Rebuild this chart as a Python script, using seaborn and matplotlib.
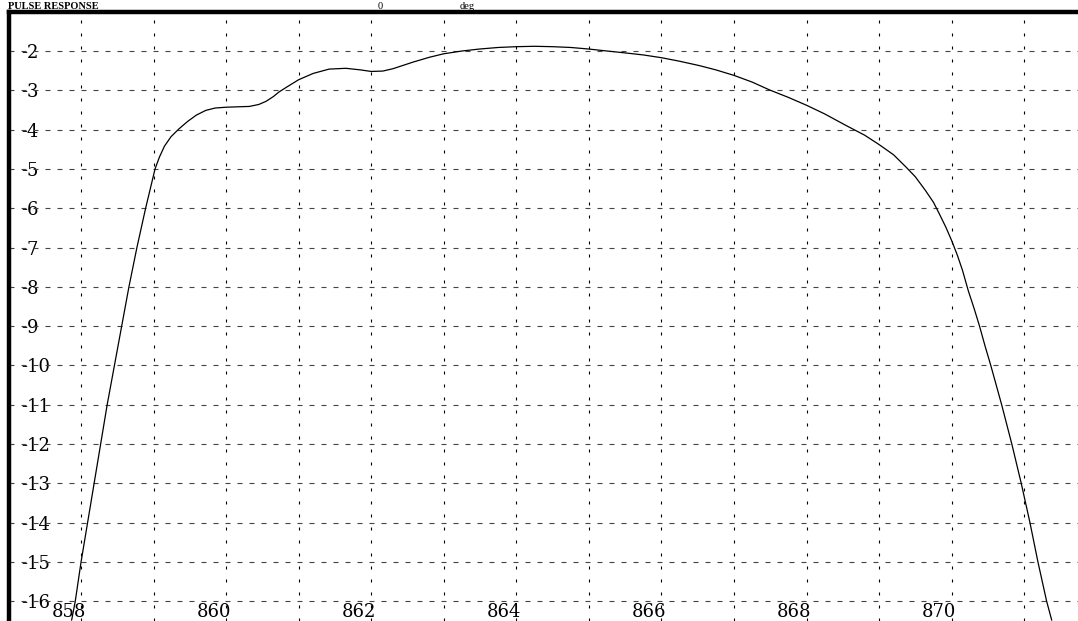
import matplotlib
matplotlib.use("Agg")
import matplotlib.pyplot as plt
import matplotlib.transforms as mtransforms
import seaborn as sns

# frequency (MHz) and level (dB)
freq = [857.87, 857.92, 858.00, 858.09, 858.18, 858.27, 858.36, 858.46, 858.56,
        858.66, 858.77, 858.89, 858.955, 859.02, 859.08, 859.15, 859.24, 859.35,
        859.47, 859.59, 859.72, 859.85, 860.00, 860.15, 860.32, 860.45, 860.55,
        860.65, 860.73, 860.85, 861.00, 861.20, 861.42, 861.65, 861.85, 862.00,
        862.16, 862.30, 862.58, 862.80, 863.00, 863.25, 863.49, 863.75, 864.00,
        864.25, 864.50, 864.75, 865.00, 865.25, 865.51, 865.75, 866.00, 866.25,
        866.52, 866.75, 867.00, 867.25, 867.49, 867.75, 868.00, 868.25, 868.54,
        868.80, 869.00, 869.20, 869.37, 869.50, 869.64, 869.75, 869.83, 869.92,
        870.00, 870.08, 870.15, 870.23, 870.31, 870.385, 870.46, 870.54, 870.69,
        870.83, 870.96, 871.08, 871.19, 871.31, 871.38]
level = [-16.48, -16.0, -15.0, -14.0, -13.0, -12.0, -11.0, -10.0, -9.0,
         -8.0, -7.0, -6.0, -5.5, -5.0, -4.70, -4.42, -4.18, -3.98,
         -3.79, -3.63, -3.51, -3.45, -3.43, -3.42, -3.41, -3.36, -3.28,
         -3.16, -3.04, -2.90, -2.73, -2.57, -2.46, -2.44, -2.48, -2.52,
         -2.51, -2.45, -2.28, -2.16, -2.07, -2.00, -1.95, -1.91, -1.89,
         -1.88, -1.89, -1.91, -1.95, -2.00, -2.05, -2.10, -2.17, -2.26,
         -2.37, -2.48, -2.62, -2.79, -2.99, -3.18, -3.38, -3.60, -3.89,
         -4.14, -4.38, -4.64, -4.95, -5.20, -5.55, -5.85, -6.14, -6.48,
         -6.82, -7.20, -7.58, -8.10, -8.55, -9.0, -9.50, -10.0, -11.0,
         -12.0, -13.0, -14.0, -15.0, -16.0, -16.48]

x_grid = list(range(857, 872))
x_ticks = [858, 860, 862, 864, 866, 868, 870]
y_grid = list(range(-16, 0))
y_ticks = list(range(-16, -1))
y_labels = [str(v) for v in y_ticks]

sns.set_theme(style="white")
plt.rcParams["font.family"] = ["DejaVu Serif", "Liberation Serif"]

W, H = 1078, 621
fig = plt.figure(figsize=(W / 100, H / 100), dpi=100)
left_px, top_px = 8.5, 11.7
ax = fig.add_axes([left_px / W, 0, 1 - left_px / W, (H - top_px) / H])

sns.lineplot(x=freq, y=level, sort=False, color="black", lw=0.9, ax=ax, zorder=3)

ax.set_xlim(857.0, 871.742)
ax.set_ylim(-16.5, -1.0)

# grid: vertical short dashes, horizontal longer dashes
for xv in x_grid:
    ax.axvline(xv, color="black", lw=0.8, ls=(0, (2.7, 9.0)), zorder=1)
for yv in y_grid:
    ax.axhline(yv, color="#444444", lw=0.8, ls=(0, (4.5, 6.3)), zorder=1)

ax.set_xticks(x_ticks, [str(v) for v in x_ticks], va="baseline", fontsize=13)
ax.set_yticks(y_ticks, y_labels, ha="left", fontsize=13)
ax.tick_params(axis="x", length=0, pad=-2.9, colors="black")
ax.tick_params(axis="y", length=0, pad=-9.0, colors="black")
shift = mtransforms.ScaledTranslation(-12.5 / 100, 0, fig.dpi_scale_trans)
for lab in ax.get_xticklabels():
    lab.set_transform(lab.get_transform() + shift)

ax.set_xlabel("")
ax.set_ylabel("")
for side in ["right", "bottom"]:
    ax.spines[side].set_visible(False)
for side in ["left", "top"]:
    ax.spines[side].set_color("black")
    ax.spines[side].set_linewidth(3.2)
    ax.spines[side].set_zorder(4)

# header line above the frame
fig.text(8 / W, 1 - 9 / H, "PULSE RESPONSE", va="baseline", ha="left",
         fontsize=7.5, fontweight="bold", color="black",
         family="Liberation Serif")
fig.text(378 / W, 1 - 9 / H, "0", va="baseline", ha="left",
         fontsize=7.5, color="black", family="Liberation Serif")
fig.text(460 / W, 1 - 9 / H, "deg", va="baseline", ha="left",
         fontsize=7.5, color="black", family="Liberation Serif")

fig.savefig("out.png", dpi=100)
